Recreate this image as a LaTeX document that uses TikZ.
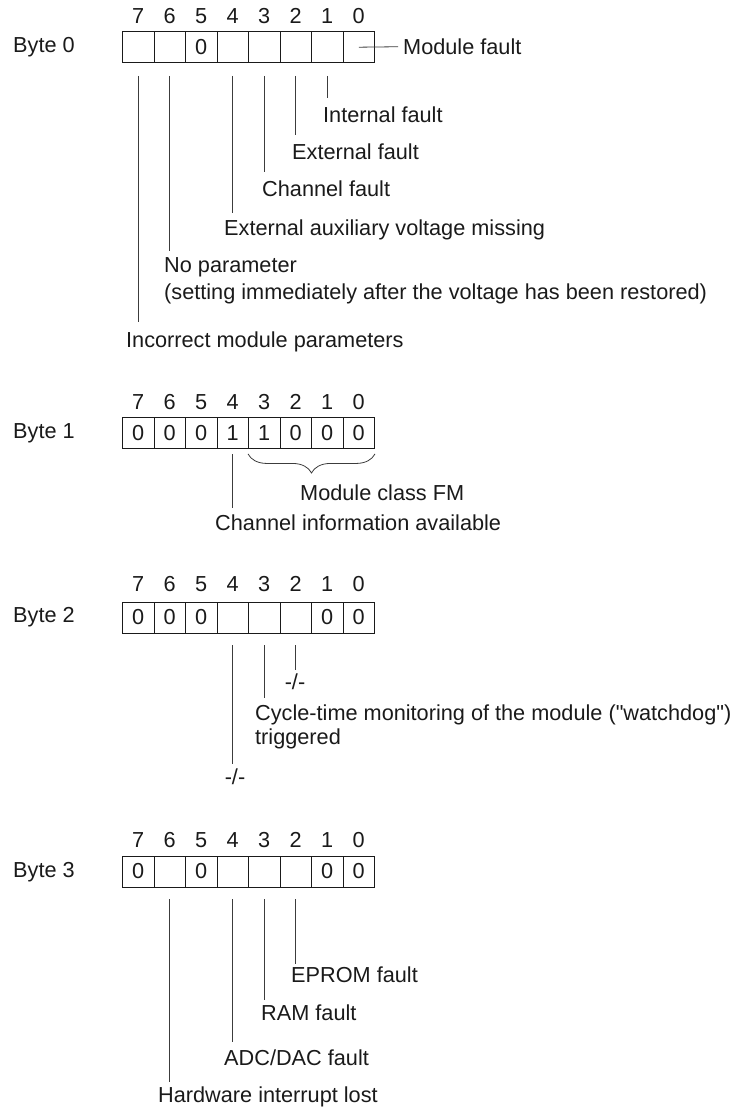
\documentclass[tikz,border=0pt]{standalone}
\usepackage{fontspec}
\setmainfont{Liberation Sans}[Ligatures=TeXOff]
\usetikzlibrary{decorations.pathreplacing}
\definecolor{txt}{RGB}{26,26,26}
\definecolor{leadc}{RGB}{60,60,60}
\newcommand\byterow[4]{%
  \foreach \b/\v [count=\k from 0] in {#4} {
    \node[cell] (b#1c\b) at (138.25+31.5*\k, #2) {\v};
    \node[bitnum] (b#1n\b) at (138.25+31.5*\k, #3) {\b};
  }}
\begin{document}
\begin{tikzpicture}[x=1pt,y=-1pt,
  every node/.style={font=\fontsize{21.7}{27}\selectfont, text=txt},
  cell/.style={draw=txt, line width=0.9pt, minimum width=31.5pt, minimum height=31pt, inner sep=0pt},
  bitnum/.style={inner sep=0pt},
  lbl/.style={inner sep=0pt, anchor=base west},
  lblc/.style={inner sep=0pt, anchor=base},
  leader/.style={draw=leadc, line width=0.8pt},
]
\useasboundingbox (0,0) rectangle (735,1110);

% ---------------- Byte 0 ----------------
\node[lbl] (byte0) at (13,52.5) {Byte 0};
\byterow{0}{47.2}{16}{7/{},6/{},5/0,4/{},3/{},2/{},1/{},0/{}}
\node[lbl] (mf) at (403,54.5) {Module fault};
\draw[leader] (b0c0.center) -- ([xshift=-5pt]mf.west);

\node[lbl] (intf) at (323,122.8) {Internal fault};
\node[lbl] (extf) at (292,159.8) {External fault};
\node[lbl] (chf) at (262,196.8) {Channel fault};
\node[lbl] (aux) at (224,235.8) {External auxiliary voltage missing};
\node[lbl] (np1) at (164,272.8) {No parameter};
\node[lbl] (np2) at (164,299.8) {(setting immediately after the voltage has been restored)};
\node[lbl] (inc) at (126,347.8) {Incorrect module parameters};

\coordinate (s0) at (0,76);
\coordinate (e01) at (0,98);
\coordinate (e02) at (0,135);
\coordinate (e03) at (0,172);
\coordinate (e04) at (0,213);
\coordinate (e06) at (0,251);
\coordinate (e07) at (0,322);
\draw[leader] (b0c1.south |- s0) -- (b0c1.south |- e01);
\draw[leader] (b0c2.south |- s0) -- (b0c2.south |- e02);
\draw[leader] (b0c3.south |- s0) -- (b0c3.south |- e03);
\draw[leader] (b0c4.south |- s0) -- (b0c4.south |- e04);
\draw[leader] (b0c6.south |- s0) -- (b0c6.south |- e06);
\draw[leader] (b0c7.south |- s0) -- (b0c7.south |- e07);

% ---------------- Byte 1 ----------------
\node[lbl] (byte1) at (13,438.8) {Byte 1};
\byterow{1}{433}{402}{7/0,6/0,5/0,4/1,3/1,2/0,1/0,0/0}
\draw[leader, decorate, decoration={brace, mirror, amplitude=19pt}]
  ([yshift=-5pt]b1c3.south west) -- ([yshift=-5pt]b1c0.south east);
\node[lbl] (mcfm) at (300,500.8) {Module class FM};
\node[lbl] (chinfo) at (215,530.8) {Channel information available};
\coordinate (s1) at (0,454);
\coordinate (e14) at (0,508);
\draw[leader] (b1c4.south |- s1) -- (b1c4.south |- e14);

% ---------------- Byte 2 ----------------
\node[lbl] (byte2) at (13,622.8) {Byte 2};
\byterow{2}{617.5}{584}{7/0,6/0,5/0,4/{},3/{},2/{},1/0,0/0}
\node[lblc] (na2) at (295,689.8) {-/-};
\node[lbl] (cyc1) at (255,720.8) {Cycle-time monitoring of the module ("watchdog")};
\node[lbl] (cyc2) at (255,744.8) {triggered};
\node[lblc] (na4) at (235,784.8) {-/-};
\coordinate (s2) at (0,645);
\coordinate (e22) at (0,670);
\coordinate (e23) at (0,698);
\coordinate (e24) at (0,764);
\draw[leader] (b2c2.south |- s2) -- (b2c2.south |- e22);
\draw[leader] (b2c3.south |- s2) -- (b2c3.south |- e23);
\draw[leader] (b2c4.south |- s2) -- (b2c4.south |- e24);

% ---------------- Byte 3 ----------------
\node[lbl] (byte3) at (13,877.8) {Byte 3};
\byterow{3}{871.5}{840}{7/0,6/{},5/0,4/{},3/{},2/{},1/0,0/0}
\node[lbl] (eprom) at (291,982.8) {EPROM fault};
\node[lbl] (ram) at (261,1020.8) {RAM fault};
\node[lbl] (adc) at (224,1065.8) {ADC/DAC fault};
\node[lbl] (hwi) at (158,1102.8) {Hardware interrupt lost};
\coordinate (s3) at (0,899);
\coordinate (e32) at (0,964);
\coordinate (e33) at (0,1000);
\coordinate (e34) at (0,1042);
\coordinate (e36) at (0,1082);
\draw[leader] (b3c2.south |- s3) -- (b3c2.south |- e32);
\draw[leader] (b3c3.south |- s3) -- (b3c3.south |- e33);
\draw[leader] (b3c4.south |- s3) -- (b3c4.south |- e34);
\draw[leader] (b3c6.south |- s3) -- (b3c6.south |- e36);
\end{tikzpicture}
\end{document}
